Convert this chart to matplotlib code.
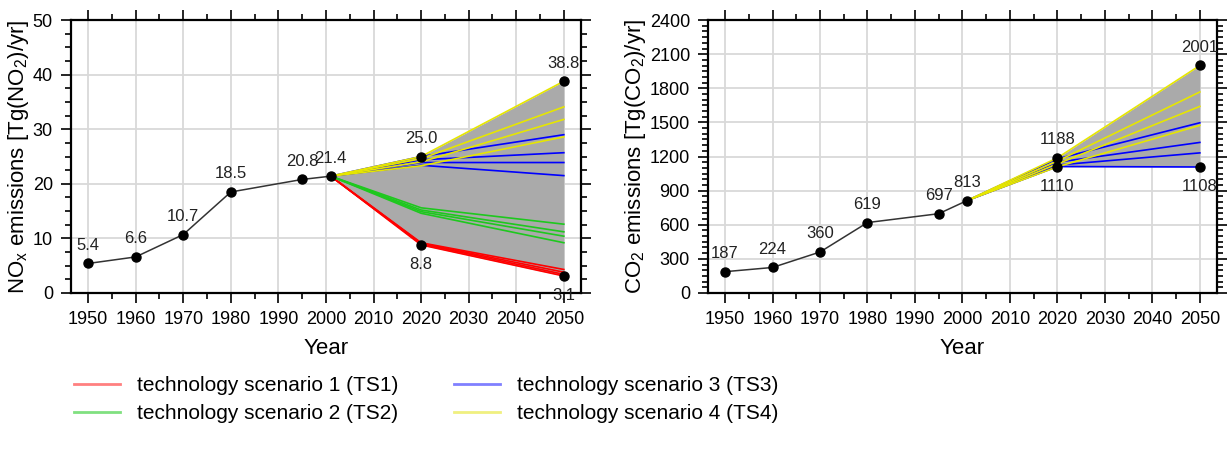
import matplotlib
matplotlib.use("Agg")
import matplotlib.pyplot as plt
import numpy as np
from matplotlib.lines import Line2D
from matplotlib.ticker import MultipleLocator

plt.rcParams['font.family'] = ['Liberation Sans', 'DejaVu Sans']

# historical inventory
anos_hist = [1950, 1960, 1970, 1980, 1995, 2001]
nox_hist = [5.4, 6.6, 10.7, 18.5, 20.8, 21.4]
co2_hist = [187, 224, 360, 619, 697, 813]

# scenario years
anos_esc = [2001, 2020, 2050]

# NOx scenarios (Tg NO2/yr)
nox_ts1 = [[21.4, 8.8, 3.1], [21.4, 9.0, 3.4], [21.4, 9.1, 3.8], [21.4, 9.2, 4.3]]
nox_ts2 = [[21.4, 15.6, 12.6], [21.4, 15.2, 11.2], [21.4, 14.9, 10.4], [21.4, 14.6, 9.2]]
nox_ts3 = [[21.4, 25.0, 29.0], [21.4, 24.4, 25.7], [21.4, 23.9, 23.9], [21.4, 23.4, 21.5]]
nox_ts4 = [[21.4, 25.0, 38.8], [21.4, 24.6, 34.1], [21.4, 24.0, 31.8], [21.4, 23.3, 28.6]]

# CO2 scenarios (Tg CO2/yr)
co2_ts3 = [[813, 1180, 1497], [813, 1150, 1324], [813, 1125, 1232], [813, 1112, 1108]]
co2_ts4 = [[813, 1188, 2001], [813, 1160, 1768], [813, 1135, 1641], [813, 1110, 1474]]

nombres = ["technology scenario 1 (TS1)", "technology scenario 2 (TS2)",
           "technology scenario 3 (TS3)", "technology scenario 4 (TS4)"]
colores = ["#ff0000", "#1ec81e", "#0000ff", "#e6e600"]
colores_leyenda = ["#ff8080", "#80e080", "#8080ff", "#f0f080"]


def panel(ax, hist, escenarios, fmt, ymax, mayor, menor, etiqueta):
    """Dibuja un panel: inventario historico + abanico de escenarios."""
    todos = np.array([l for grupo, _ in escenarios for l in grupo])
    arriba = todos.max(axis=0)
    abajo = todos.min(axis=0)

    ax.fill_between(anos_esc, abajo, arriba, color="#aaaaaa", lw=0, zorder=2)
    for grupo, color in escenarios:
        for linea in grupo:
            ax.plot(anos_esc, linea, color=color, lw=1.2, zorder=3)

    ax.plot(anos_hist, hist, color="#333333", lw=1.1, zorder=4)
    ax.plot(anos_hist, hist, "o", color="black", ms=6.5, zorder=5)
    ax.plot(anos_esc[1:], arriba[1:], "o", color="black", ms=6.5, zorder=5)
    ax.plot(anos_esc[1:], abajo[1:], "o", color="black", ms=6.5, zorder=5)

    for x, y in zip(anos_hist, hist):
        ax.annotate(fmt % y, (x, y), xytext=(0, 13), textcoords="offset points",
                    ha="center", va="center", fontsize=12, color="#222222")
    for x, y in zip(anos_esc[1:], arriba[1:]):
        ax.annotate(fmt % y, (x, y), xytext=(0, 13), textcoords="offset points",
                    ha="center", va="center", fontsize=12, color="#222222")
    for x, y in zip(anos_esc[1:], abajo[1:]):
        ax.annotate(fmt % y, (x, y), xytext=(0, -14), textcoords="offset points",
                    ha="center", va="center", fontsize=12, color="#222222",
                    annotation_clip=False)

    ax.set_xlim(1946.4, 2053.6)
    ax.set_ylim(0, ymax)
    ax.xaxis.set_major_locator(MultipleLocator(10))
    ax.xaxis.set_minor_locator(MultipleLocator(5))
    ax.yaxis.set_major_locator(MultipleLocator(mayor))
    ax.yaxis.set_minor_locator(MultipleLocator(menor))
    ax.tick_params(which="both", direction="out", top=True, right=True,
                   labelsize=13, width=1.2, colors="black")
    ax.tick_params(which="major", length=7, pad=6)
    ax.tick_params(which="minor", length=4)
    ax.grid(True, which="major", color="#d9d9d9", lw=1.3, zorder=0)
    ax.set_axisbelow(True)
    for s in ax.spines.values():
        s.set_linewidth(1.6)
    ax.set_xlabel("Year", fontsize=16, labelpad=7)
    ax.set_ylabel(etiqueta, fontsize=16, labelpad=1)


fig = plt.figure(figsize=(12.28, 4.57), dpi=100)
ax1 = fig.add_axes([0.0578, 0.359, 0.4153, 0.597])
ax2 = fig.add_axes([0.5765, 0.359, 0.4145, 0.597])

panel(ax1, nox_hist,
      [(nox_ts1, colores[0]), (nox_ts2, colores[1]), (nox_ts3, colores[2]), (nox_ts4, colores[3])],
      "%.1f", 50, 10, 2.5, r"NO$_\mathregular{x}$ emissions [Tg(NO$_\mathregular{2}$)/yr]")
panel(ax2, co2_hist,
      [(co2_ts3, colores[2]), (co2_ts4, colores[3])],
      "%d", 2400, 300, 50, r"CO$_\mathregular{2}$ emissions [Tg(CO$_\mathregular{2}$)/yr]")

manijas = [Line2D([], [], color=c, lw=2) for c in colores_leyenda]
fig.legend(manijas, nombres, loc="upper left", bbox_to_anchor=(0.052, 0.2),
           ncol=2, frameon=False, fontsize=15, handlelength=2.2, borderpad=0,
           handletextpad=0.8, columnspacing=2.7, labelspacing=0.45)

fig.savefig("out.png", dpi=100)
